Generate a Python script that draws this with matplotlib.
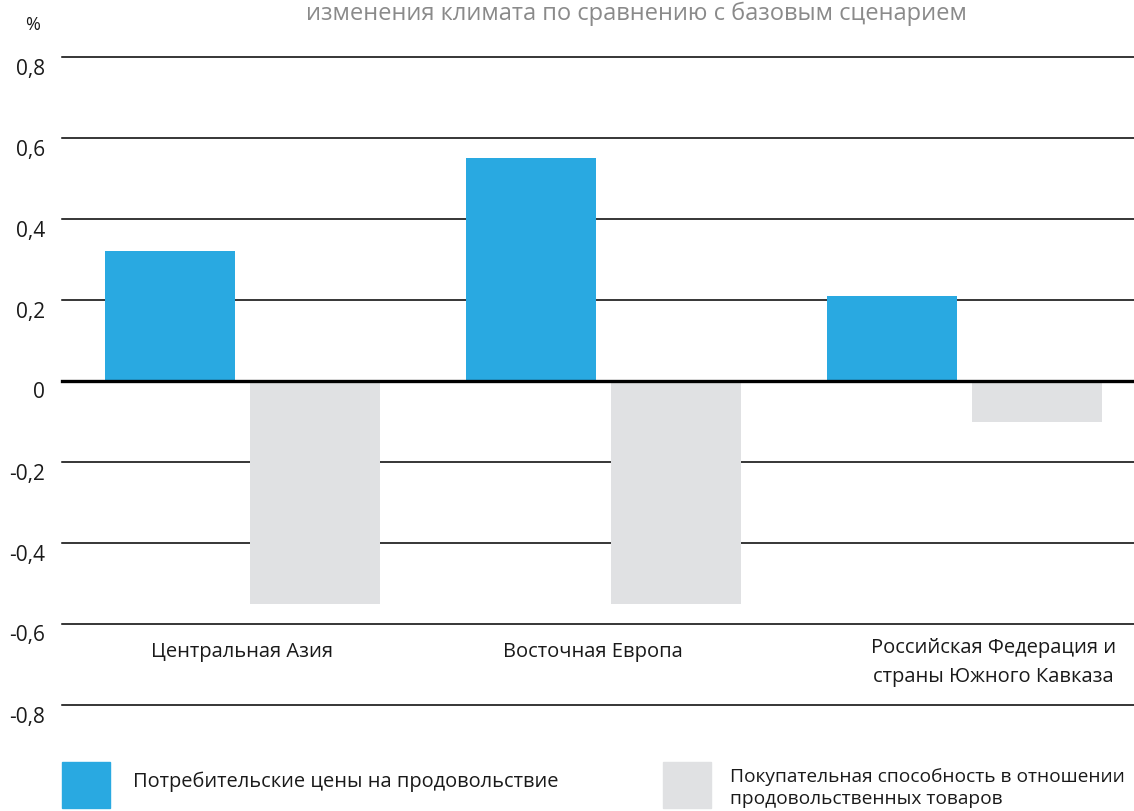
import matplotlib
matplotlib.use("Agg")
import matplotlib.pyplot as plt
from matplotlib.patches import Rectangle
import numpy as np

plt.rcParams['font.family'] = ['Open Sans', 'DejaVu Sans']

W, H = 1134, 811

categories = ["Центральная Азия", "Восточная Европа",
              "Российская Федерация и\nстраны Южного Кавказа"]
food_prices = [0.32, 0.55, 0.21]
purchasing_power = [-0.55, -0.55, -0.10]
yticks = [0.8, 0.6, 0.4, 0.2, 0, -0.2, -0.4, -0.6, -0.8]
ytick_labels = ["0,8", "0,6", "0,4", "0,2", "0", "-0,2", "-0,4", "-0,6", "-0,8"]
legend_labels = ["Потребительские цены на продовольствие",
                 "Покупательная способность в отношении\nпродовольственных товаров"]
title = "изменения климата по сравнению с базовым сценарием"

blue = "#29a9e1"
grey = "#e0e1e3"
txt = "#1a1a1a"


def fx(px):
    return px / W


def fy(py):
    return 1 - py / H


fig = plt.figure(figsize=(W / 100, H / 100), dpi=100)
ax = fig.add_axes([fx(62), fy(705), 1 - fx(62), fy(57) - fy(705)])

x = np.arange(len(categories))
ax.bar(x - 0.2, food_prices, width=0.36, color=blue, zorder=3)
ax.bar(x + 0.2, purchasing_power, width=0.36, color=grey, zorder=3)

for t in yticks:
    if t == 0:
        ax.axhline(t, color="black", lw=2.4, zorder=4, clip_on=False)
    else:
        ax.axhline(t, color="black", lw=1.1, zorder=2, clip_on=False)

ax.set_xlim(-0.5, 2.47)
ax.set_ylim(-0.8, 0.8)
ax.axis("off")

# y labels, sitting a little below each gridline
for t, lab in zip(yticks, ytick_labels):
    py = 705 - (t + 0.8) / 1.6 * (705 - 57) + 12
    fig.text(fx(45), fy(py), lab, ha="right", va="center", fontsize=15, color=txt)

fig.text(fx(33), fy(25), "%", ha="center", va="center", fontsize=13, color=txt)
fig.text(fx(636), fy(14), title, ha="center", va="center", fontsize=17, color="#8a8a8a")

# category labels
label_x = [0, 0.97, 2.08]
for lx, lab in zip(label_x, categories):
    ax.text(lx, -0.67 if "\n" not in lab else -0.695, lab, ha="center", va="center",
            fontsize=14.5, color=txt, linespacing=1.6)

# legend drawn by hand
fig.patches.append(Rectangle((fx(62), fy(808)), fx(48), fy(762) - fy(808),
                             transform=fig.transFigure, color=blue))
fig.patches.append(Rectangle((fx(663), fy(808)), fx(48), fy(762) - fy(808),
                             transform=fig.transFigure, color=grey))
fig.text(fx(133), fy(782), legend_labels[0], ha="left", va="center", fontsize=14.4, color=txt)
fig.text(fx(730), fy(788), legend_labels[1], ha="left", va="center", fontsize=13.8,
         color=txt, linespacing=1.3)

fig.savefig("out.png", dpi=100, facecolor="white")
